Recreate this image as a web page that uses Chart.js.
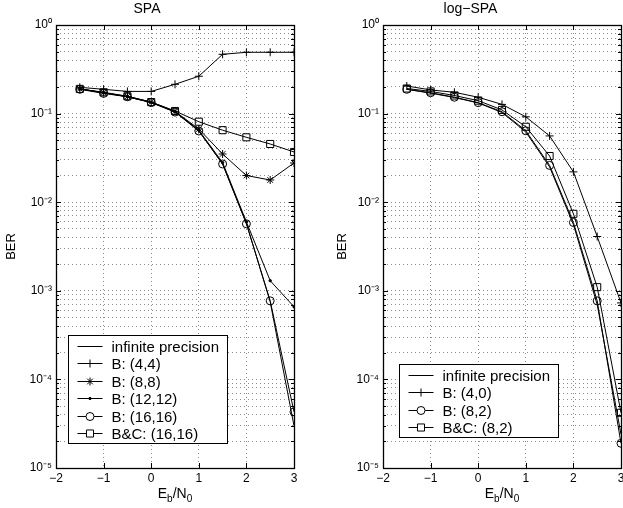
<!DOCTYPE html>
<html>
<head>
<meta charset="utf-8">
<script src="https://cdn.jsdelivr.net/npm/chart.js@4/dist/chart.umd.min.js"></script>
<style>
body { margin: 0; background: #fff; width: 623px; height: 508px; overflow: hidden; position: relative; font-family: "Liberation Sans", Arial, sans-serif; }
canvas { position: absolute; top: 0; }
.xlab { position: absolute; top: 485px; font-size: 14px; transform: translateX(-50%); white-space: nowrap; }
.xlab sub { font-size: 10px; vertical-align: -4px; line-height: 0; }
</style>
</head>
<body>
<canvas id="chartSPA" width="300" height="508" style="left:0"></canvas>
<canvas id="chartLogSPA" width="303" height="508" style="left:320px"></canvas>
<div class="xlab" style="left:175px">E<sub>b</sub>/N<sub>0</sub></div>
<div class="xlab" style="left:502px">E<sub>b</sub>/N<sub>0</sub></div>
<script>
// Eb/N0 (dB)
const ebn0 = [-1.5, -1, -0.5, 0, 0.5, 1, 1.5, 2, 2.5, 3];
const xTicks = [-2, -1, 0, 1, 2, 3];

// SPA
const spaInf   = [0.19, 0.172, 0.155, 0.134, 0.105, 0.064, 0.027, 0.0058, 0.00075, 0.00003];
const spaB44   = [0.198, 0.188, 0.178, 0.178, 0.214, 0.264, 0.467, 0.492, 0.492, 0.492];
const spaB88   = [0.19, 0.172, 0.156, 0.135, 0.106, 0.067, 0.035, 0.020, 0.0178, 0.0277];
const spaB1212 = [0.19, 0.172, 0.155, 0.134, 0.105, 0.065, 0.028, 0.0060, 0.0013, 0.00066];
const spaB1616 = [0.188, 0.169, 0.155, 0.133, 0.104, 0.0636, 0.027, 0.0057, 0.00077, 0.000043];
const spaBC1616 = [0.19, 0.174, 0.157, 0.135, 0.107, 0.081, 0.065, 0.054, 0.0454, 0.0369];

// log-SPA
const logInf  = [0.188, 0.170, 0.152, 0.132, 0.103, 0.062, 0.025, 0.0056, 0.0007, 0.000024];
const logB40  = [0.205, 0.185, 0.174, 0.153, 0.127, 0.092, 0.056, 0.022, 0.0041, 0.00073];
const logB82  = [0.188, 0.172, 0.153, 0.133, 0.105, 0.064, 0.026, 0.0059, 0.00077, 0.000019];
const logBC82 = [0.192, 0.178, 0.16, 0.14, 0.11, 0.071, 0.0332, 0.0074, 0.0011, 0.000042];

const FONT = '"Liberation Sans", Arial, sans-serif';
const GRID = 'rgba(0,0,0,0.45)';

// y grid: 1..9 x 10^e
const yGrid = [];
for (let e = -5; e < 0; e++) {
    for (let m = 1; m <= 9; m++) yGrid.push(Number(m + 'e' + e));
}
yGrid.push(1);

function isDecade(v) {
    const l = Math.log10(v);
    return Math.abs(l - Math.round(l)) < 1e-9;
}

const sup = { '0': '\u2070', '1': '\u00b9', '2': '\u00b2', '3': '\u00b3', '4': '\u2074', '5': '\u2075', '-': '\u207b' };
function decadeLabel(v) {
    if (!isDecade(v)) return '';
    const e = String(Math.round(Math.log10(v)));
    return '10' + e.split('').map(c => sup[c]).join('');
}

function pts(arr) {
    return ebn0.map((x, i) => ({ x: x, y: arr[i] }));
}

function serie(label, arr, style, radius, fill) {
    return {
        label: label,
        data: pts(arr),
        borderColor: '#000',
        borderWidth: 1,
        pointStyle: style,
        pointRadius: radius,
        pointHoverRadius: radius,
        pointBorderColor: '#000',
        pointBorderWidth: 1,
        pointBackgroundColor: fill || 'rgba(0,0,0,0)',
        tension: 0
    };
}

// leyenda dentro del area del grafico
const legendBox = {
    id: 'legendBox',
    afterDatasetsDraw(chart, args, opts) {
        const ctx = chart.ctx, a = chart.chartArea;
        const rowH = 17.5;
        const sets = chart.data.datasets;
        const h = sets.length * rowH + 3;
        const x0 = Math.round(a.left + opts.left) + 0.5;
        const y0 = Math.round(a.bottom - opts.bottom - h) + 0.5;
        ctx.save();
        ctx.font = '15px ' + FONT;
        let maxw = 0;
        sets.forEach(d => { maxw = Math.max(maxw, ctx.measureText(d.label).width); });
        const w = Math.round(43 + maxw + 8);
        ctx.fillStyle = '#fff';
        ctx.fillRect(x0, y0, w, h);
        ctx.strokeStyle = '#000';
        ctx.lineWidth = 1;
        ctx.strokeRect(x0, y0, w, h);
        sets.forEach((d, i) => {
            const y = Math.round(y0 + 1.5 + rowH * (i + 0.5)) + 0.5;
            ctx.strokeStyle = '#000';
            ctx.beginPath();
            ctx.moveTo(x0 + 9, y);
            ctx.lineTo(x0 + 34, y);
            ctx.stroke();
            if (d.pointStyle && d.pointRadius > 0) {
                ctx.fillStyle = d.pointBackgroundColor === 'rgba(0,0,0,0)' ? '#fff' : d.pointBackgroundColor;
                Chart.helpers.drawPoint(ctx, { pointStyle: d.pointStyle, radius: d.pointRadius, borderWidth: 1, rotation: 0 }, x0 + 21.5, y);
            }
            ctx.fillStyle = '#000';
            ctx.textBaseline = 'middle';
            ctx.textAlign = 'left';
            ctx.fillText(d.label, x0 + 43, y + 1);
        });
        ctx.restore();
    }
};

// marco y marcas tipo matlab
const frame = {
    id: 'frame',
    afterDraw(chart) {
        const ctx = chart.ctx, a = chart.chartArea;
        const sx = chart.scales.x, sy = chart.scales.y;
        ctx.save();
        ctx.strokeStyle = '#000';
        ctx.lineWidth = 1;
        ctx.beginPath();
        xTicks.forEach(v => {
            const px = Math.round(sx.getPixelForValue(v)) + 0.5;
            ctx.moveTo(px, a.bottom); ctx.lineTo(px, a.bottom - 5);
            ctx.moveTo(px, a.top); ctx.lineTo(px, a.top + 5);
        });
        yGrid.forEach(v => {
            const len = isDecade(v) ? 5 : 3;
            const py = Math.round(sy.getPixelForValue(v)) + 0.5;
            ctx.moveTo(a.left, py); ctx.lineTo(a.left + len, py);
            ctx.moveTo(a.right, py); ctx.lineTo(a.right - len, py);
        });
        ctx.stroke();
        ctx.lineWidth = 1.3;
        ctx.strokeRect(Math.round(a.left) + 0.5, Math.round(a.top) + 0.5, Math.round(a.right - a.left), Math.round(a.bottom - a.top));
        ctx.restore();
    }
};

function makeChart(id, title, datasets, yAxisW, berPad, padRight, legLeft, legBottom) {
    return new Chart(document.getElementById(id), {
        type: 'line',
        data: { datasets: datasets },
        options: {
            responsive: false,
            animation: false,
            events: [],
            layout: { autoPadding: false, padding: { left: 0, right: padRight, top: 0, bottom: 0 } },
            plugins: {
                legend: { display: false },
                tooltip: { enabled: false },
                title: {
                    display: true,
                    text: title,
                    color: '#000',
                    font: { family: FONT, size: 14, weight: 'normal' },
                    padding: { top: 1, bottom: 7.2 }
                },
                legendBox: { left: legLeft, bottom: legBottom }
            },
            scales: {
                x: {
                    type: 'linear',
                    min: -2,
                    max: 3,
                    afterBuildTicks: s => { s.ticks = xTicks.map(v => ({ value: v })); },
                    afterFit: s => { s.height = 40; s.paddingLeft = 0; s.paddingRight = 0; },
                    ticks: {
                        color: '#000',
                        font: { family: FONT, size: 12 },
                        padding: 3,
                        maxRotation: 0,
                        autoSkip: false,
                        callback: v => v < 0 ? '\u2212' + (-v) : String(v)
                    },
                    grid: { color: GRID, lineWidth: 1, drawTicks: false },
                    border: { display: false, dash: [1, 3] }
                },
                y: {
                    type: 'logarithmic',
                    min: 1e-5,
                    max: 1,
                    afterBuildTicks: s => { s.ticks = yGrid.map(v => ({ value: v })); },
                    afterFit: s => { s.width = yAxisW; s.paddingTop = 0; s.paddingBottom = 0; },
                    ticks: {
                        color: '#000',
                        font: { family: FONT, size: 12 },
                        padding: 4,
                        autoSkip: false,
                        callback: v => decadeLabel(v)
                    },
                    title: {
                        display: true,
                        text: 'BER',
                        color: '#000',
                        font: { family: FONT, size: 13 },
                        padding: { top: berPad, bottom: 0 }
                    },
                    grid: { color: GRID, lineWidth: 1, drawTicks: false },
                    border: { display: false, dash: [1, 3] }
                }
            }
        },
        plugins: [legendBox, frame]
    });
}

makeChart('chartSPA', 'SPA', [
    serie('infinite precision', spaInf, false, 0),
    serie('B: (4,4)', spaB44, 'cross', 4),
    serie('B: (8,8)', spaB88, 'star', 4),
    serie('B: (12,12)', spaB1212, 'circle', 1.2, '#000'),
    serie('B: (16,16)', spaB1616, 'circle', 4),
    serie('B&C: (16,16)', spaBC1616, 'rect', 5)
], 56, 4, 6, 12, 25);

makeChart('chartLogSPA', 'log\u2212SPA', [
    serie('infinite precision', logInf, false, 0),
    serie('B: (4,0)', logB40, 'cross', 4),
    serie('B: (8,2)', logB82, 'circle', 4),
    serie('B&C: (8,2)', logBC82, 'rect', 5)
], 63, 15, 2, 16, 31);
</script>
</body>
</html>
